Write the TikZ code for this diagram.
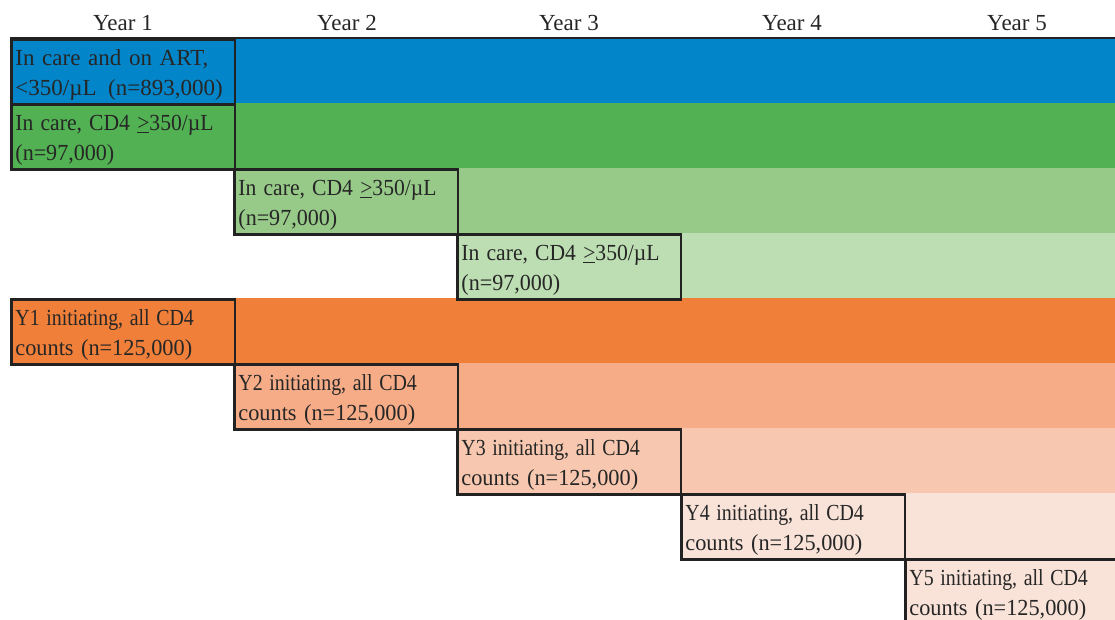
\documentclass[tikz,border=0pt]{standalone}
\usepackage{fontspec}
\setmainfont{Liberation Serif}
\definecolor{cBlue}{HTML}{0385C9}
\definecolor{cGreen}{HTML}{52B152}
\definecolor{cGreenB}{HTML}{97CA88}
\definecolor{cGreenC}{HTML}{BCDEB2}
\definecolor{cOrange}{HTML}{F07F3A}
\definecolor{cSalmon}{HTML}{F5AC87}
\definecolor{cPeach}{HTML}{F7C8AF}
\definecolor{cPale}{HTML}{F9E3D8}
\definecolor{boxline}{HTML}{222222}
\definecolor{txt}{HTML}{262626}
\newcommand{\firstln}{\rule{0pt}{22pt}}
\newcommand{\careln}{\firstln\scalebox{0.94}[1]{In care, CD4 \underline{>}350/µL}\\\scalebox{0.96}[1]{(n=97,000)}}
\newcommand{\initln}[1]{\firstln\scalebox{0.865}[1]{Y#1 initiating, all CD4}\\\scalebox{0.97}[1]{counts (n=125,000)}}
\begin{document}
\begin{tikzpicture}[x=1pt,y=-1pt,
  cellbox/.style={draw=boxline, line width=2.8pt, minimum width=223.5pt, minimum height=65pt,
    anchor=north west, inner xsep=4pt, inner ysep=0pt, align=left, text width=215.5pt,
    font=\fontsize{23}{30}\selectfont, text=txt},
  yearlabel/.style={anchor=base, inner sep=0pt, font=\fontsize{23}{26}\selectfont, text=txt}]
\clip (0,0) rectangle (1115,619);
\fill[white] (0,0) rectangle (1115,619);
% year labels
\node[yearlabel] (y1) at (123,30) {Year 1};
\node[yearlabel] (y2) at (347,30) {Year 2};
\node[yearlabel] (y3) at (569,30) {Year 3};
\node[yearlabel] (y4) at (792,30) {Year 4};
\node[yearlabel] (y5) at (1017,30) {Year 5};
% bands
\fill[cBlue]   (10,38)  rectangle (1120,103);
\fill[cGreen]  (10,103) rectangle (1120,168);
\fill[cGreenB] (233,168) rectangle (1120,233);
\fill[cGreenC] (456,233) rectangle (1120,298);
\fill[cOrange] (10,298) rectangle (1120,363);
\fill[cSalmon] (233,363) rectangle (1120,428);
\fill[cPeach]  (456,428) rectangle (1120,493);
\fill[cPale]   (680,493) rectangle (1120,558);
\fill[cPale]   (904,558) rectangle (1120,630);
\draw[boxline, line width=1.8pt] (10,38) -- (1120,38);
% boxes
\node[cellbox, fill=cBlue] (b1) at (10,38) {\firstln In care and on ART,\\<350/µL\hspace{4pt} (n=893,000)};
\node[cellbox, fill=cGreen] (b2) at (10,103) {\careln};
\node[cellbox, fill=cGreenB] (b3) at (233,168) {\careln};
\node[cellbox, fill=cGreenC] (b4) at (456,233) {\careln};
\node[cellbox, fill=cOrange] (b5) at (10,298) {\initln{1}};
\node[cellbox, fill=cSalmon] (b6) at (233,363) {\initln{2}};
\node[cellbox, fill=cPeach] (b7) at (456,428) {\initln{3}};
\node[cellbox, fill=cPale] (b8) at (680,493) {\initln{4}};
\node[cellbox, fill=cPale] (b9) at (904,558) {\initln{5}};
\draw[boxline, line width=2.8pt] (b9.north east) -- (1120,558);
\end{tikzpicture}
\end{document}
